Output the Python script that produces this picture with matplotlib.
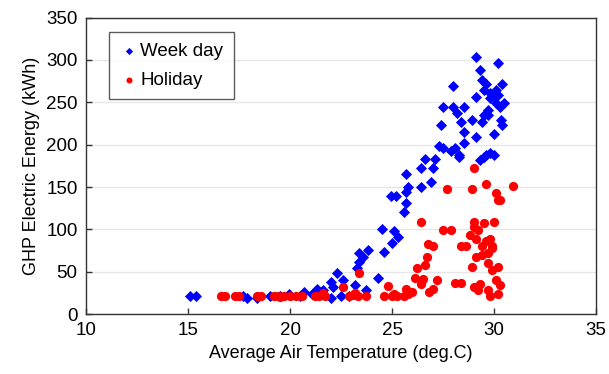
import matplotlib
matplotlib.use("Agg")
import matplotlib.pyplot as plt

plt.rcParams['font.family'] = ['Liberation Sans', 'DejaVu Sans']

# Week day data (temperature, energy)
week_temp = [15.1, 15.4, 17.7, 17.9, 18.4, 19.0, 19.5, 19.96, 20.5, 20.7, 21.1, 21.3, 21.6, 22.0,
             22.1, 22.0, 22.3, 22.6, 22.5, 22.9, 23.2, 23.3, 23.4, 23.4, 23.6, 23.7, 23.8, 24.3,
             24.5, 24.6, 25.0, 25.1, 25.3, 24.95, 25.2, 25.6, 25.7, 25.7, 25.7, 25.8, 26.4, 26.4,
             26.6, 26.9, 27.0, 27.1, 27.4, 27.3, 27.5, 27.5, 27.9, 28.0, 28.0, 28.1, 28.3, 28.2,
             28.4, 28.5, 28.5, 28.5, 28.3, 28.9, 29.1, 29.1, 29.3, 29.4, 29.5, 29.6, 29.5, 29.7,
             29.7, 29.4, 29.1, 29.3, 29.5, 29.6, 29.8, 30.0, 30.0, 29.8, 30.0, 30.1, 30.2, 30.2,
             30.1, 30.3, 30.35, 30.4, 30.4, 30.5, 29.8]
week_energy = [21, 21, 21, 19, 19, 21, 22, 24, 21, 26, 24, 30, 28, 19,
               32, 38, 48, 40, 22, 22, 35, 54, 62, 72, 67, 29, 76, 43,
               101, 73, 84, 98, 91, 139, 139, 121, 131, 144, 165, 150, 150, 173,
               183, 156, 172, 183, 223, 198, 196, 244, 192, 269, 245, 196, 188, 237,
               227, 245, 202, 215, 186, 229, 256, 304, 288, 276, 265, 272, 235, 241,
               235, 227, 209, 182, 186, 188, 190, 188, 213, 261, 259, 265, 296, 259,
               249, 245, 229, 272, 223, 249, 255]

# Holiday data (temperature, energy)
hol_temp = [16.6, 16.8, 17.3, 17.5, 18.4, 18.6, 19.2, 19.4, 19.5, 19.7, 20.0, 20.3, 20.6, 21.2,
            21.4, 21.6, 21.7, 22.6, 22.9, 23.1, 23.2, 23.35, 23.4, 23.7, 24.6, 24.8, 25.0, 25.1,
            25.25, 25.6, 25.7, 25.8, 26.0, 26.1, 26.2, 26.4, 26.4, 26.5, 26.6, 26.7, 26.75, 27.0,
            26.8, 27.0, 27.2, 27.5, 27.7, 27.9, 28.1, 28.4, 28.4, 28.6, 28.8, 29.0, 28.9, 29.0,
            29.0, 29.1, 29.2, 29.1, 28.9, 29.0, 29.2, 29.3, 29.4, 29.4, 29.5, 29.6, 29.7, 29.7,
            29.7, 29.8, 29.8, 29.9, 29.9, 30.0, 30.1, 30.2, 30.2, 30.3, 30.3, 30.2, 30.1, 30.9,
            29.9, 29.6]
hol_energy = [22, 22, 22, 22, 22, 22, 22, 22, 20, 22, 22, 22, 22, 22,
              22, 25, 22, 32, 22, 23, 25, 22, 49, 22, 22, 33, 22, 24,
              22, 22, 30, 24, 26, 43, 54, 109, 36, 41, 58, 67, 83, 81,
              26, 30, 40, 99, 148, 99, 37, 37, 81, 80, 93, 109, 148, 172,
              103, 89, 99, 68, 56, 32, 28, 36, 80, 70, 107, 154, 60, 72,
              28, 22, 89, 78, 52, 109, 143, 56, 135, 135, 34, 24, 40, 151,
              80, 86]

x_ticks = [10, 15, 20, 25, 30, 35]
y_ticks = [0, 50, 100, 150, 200, 250, 300, 350]

fig = plt.figure(figsize=(6.09, 3.74), dpi=100)
ax = fig.add_axes([0.141, 0.160, 0.838, 0.793])

ax.scatter(week_temp, week_energy, marker='D', s=32, color='#0000ff', linewidths=0,
           label='Week day', zorder=3)
ax.scatter(hol_temp, hol_energy, marker='o', s=44, color='#ff0000', linewidths=0,
           label='Holiday', zorder=3)

ax.set_xlim(10, 35)
ax.set_ylim(0, 350)
ax.set_xticks(x_ticks)
ax.set_yticks(y_ticks)
ax.tick_params(direction='in', length=4, width=1, color='#333333', labelsize=13.5, pad=6)
ax.yaxis.grid(True, color='#e6e6e6', linewidth=1)
ax.set_axisbelow(True)
for sp in ax.spines.values():
    sp.set_color('#333333')
    sp.set_linewidth(1.0)

ax.set_xlabel('Average Air Temperature (deg.C)', fontsize=13, labelpad=4)
ax.set_ylabel('GHP Electric Energy (kWh)', fontsize=13, labelpad=4)

leg = ax.legend(loc='upper left', bbox_to_anchor=(0.046, 0.95), fontsize=13.5,
                frameon=True, fancybox=False, edgecolor='#333333', handletextpad=0.1,
                handlelength=1.0, borderpad=0.55, labelspacing=0.65, borderaxespad=0,
                markerscale=0.65)
leg.get_frame().set_linewidth(1.0)

fig.savefig('out.png', dpi=100)
